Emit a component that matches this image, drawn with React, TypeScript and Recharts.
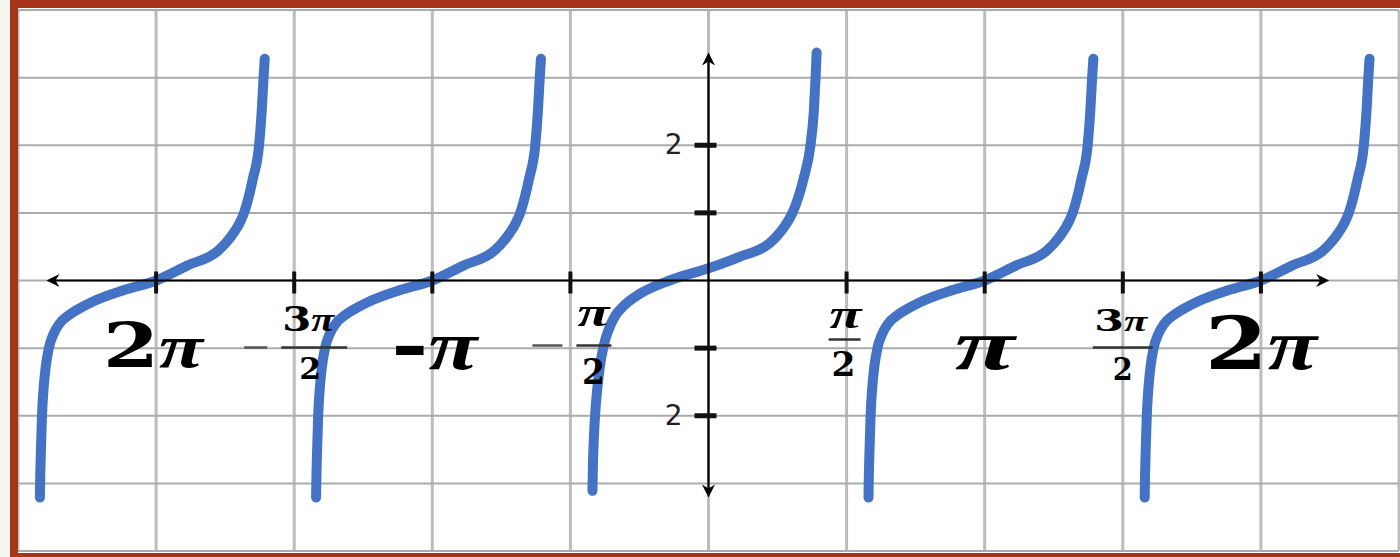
import React from 'react';
import { LineChart, Line, XAxis, YAxis, ReferenceLine, ReferenceDot } from 'recharts';

const PI = Math.PI;

// Grid values (x in radians, multiples of π/2; y in units)
const X_GRID = [-5 * PI / 2, -2 * PI, -3 * PI / 2, -PI, -PI / 2, 0, PI / 2, PI, 3 * PI / 2, 2 * PI, 5 * PI / 2];
const Y_GRID = [-4, -3, -2, -1, 0, 1, 2, 3, 4];

// Axis ticks and labels (as printed in the picture)
const X_TICKS = [-2 * PI, -3 * PI / 2, -PI, -PI / 2, PI / 2, PI, 3 * PI / 2, 2 * PI];
const X_TICK_LABELS = ['2π', '-3π/2', '-π', '-π/2', 'π/2', 'π', '3π/2', '2π'];
const Y_TICKS = [2, 1, -1, -2];
const Y_TICK_LABELS = ['2', '', '', '2'];

// Axis extents (arrow tips) in data units
const X_AXIS_RANGE = [-7.53, 7.06];
const Y_AXIS_RANGE = [-3.21, 3.37];

// Centres of the outer tangent branches
const BRANCH_CENTERS = [-2 * PI, -PI, PI, 2 * PI];

// Shape of an outer branch: [offset from centre (rad), y]
const SIDE_BRANCH_SHAPE: [number, number][] = [
  [-1.322, -3.21], [-1.318, -2.9], [-1.31, -2.5], [-1.298, -2.0], [-1.28, -1.6],
  [-1.255, -1.27], [-1.22, -1.0], [-1.17, -0.8], [-1.1, -0.64], [-1.0, -0.52],
  [-0.88, -0.42], [-0.717, -0.31], [-0.364, -0.14], [0, 0], [0.353, 0.22],
  [0.705, 0.44], [0.79, 0.55], [0.88, 0.7], [0.95, 0.85], [1.0, 1.0], [1.1, 1.5],
  [1.171, 2.0], [1.201, 2.5], [1.222, 3.0], [1.236, 3.28],
];

// Middle branch (drawn a little higher than the others): [x (rad), y]
const MIDDLE_BRANCH: [number, number][] = [
  [-1.32, -3.11], [-1.314, -2.7], [-1.303, -2.3], [-1.288, -1.95], [-1.265, -1.6],
  [-1.235, -1.27], [-1.195, -0.98], [-1.14, -0.74], [-1.06, -0.52], [-0.96, -0.37],
  [-0.785, -0.2], [-0.444, 0], [0, 0.18], [0.353, 0.35], [0.694, 0.55], [0.78, 0.66],
  [0.87, 0.81], [0.955, 1.0], [1.08, 1.5], [1.16, 2.0], [1.198, 2.5], [1.218, 3.0], [1.23, 3.37],
];

const branches = [
  ...BRANCH_CENTERS.map((c) => SIDE_BRANCH_SHAPE.map(([dx, y]) => ({ x: c + dx, y }))),
  MIDDLE_BRANCH.map(([x, y]) => ({ x, y })),
];

const CURVE = '#4472C4';
const SERIF = "'DejaVu Serif', 'Liberation Serif', serif";
const PI_FONT = "'Liberation Serif', 'DejaVu Serif', serif";

type Layout = any;
const LABEL_LAYOUT: Layout[] = [
  { kind: 'big', dx: -3, dy: 86, size: 62, len: 100 },
  { kind: 'frac', minus: [-50, -27], minusDy: 67, bar: [-13, 53], barDy: 67, numDx: 14, numDy: 50, numSize: 33, numLen: 52, denDx: 16, denDy: 98, denSize: 29, denLen: 22 },
  { kind: 'big', dx: 2, dy: 88, size: 70, len: 86 },
  { kind: 'frac', minus: [-38, -8], minusDy: 65, bar: [6, 41], barDy: 65, numDx: 23, numDy: 45, numSize: 40, numLen: 32, denDx: 23, denDy: 103, denSize: 36, denLen: 23 },
  { kind: 'frac', bar: [-18, 14], barDy: 59, numDx: -1, numDy: 47, numSize: 40, numLen: 32, denDx: -3, denDy: 95, denSize: 34, denLen: 24 },
  { kind: 'big', dx: 0, dy: 88, size: 72, len: 60 },
  { kind: 'frac', bar: [-30, 30], barDy: 67, numDx: -2, numDy: 50, numSize: 29, numLen: 53, denDx: 0, denDy: 99, denSize: 31, denLen: 20 },
  { kind: 'big', dx: 0, dy: 88, size: 72, len: 112 },
];

const mathSpans = (s: string) =>
  s.split('').map((ch, i) =>
    ch === 'π' ? (
      <tspan key={i} fontFamily={PI_FONT} fontStyle="italic" fontWeight={700}>{ch}</tspan>
    ) : (
      <tspan key={i}>{ch}</tspan>
    )
  );

const XTick = ({ cx, cy, idx }: any) => {
  if (cx == null || cy == null) return null;
  const label = X_TICK_LABELS[idx];
  const L = LABEL_LAYOUT[idx];
  let labelEl: React.ReactNode = null;
  if (L.kind === 'big') {
    labelEl = (
      <text x={cx + L.dx} y={cy + L.dy} textAnchor="middle" fontFamily={SERIF} fontWeight={700}
        fontSize={L.size} textLength={L.len} lengthAdjust="spacingAndGlyphs" fill="#000">
        {mathSpans(label)}
      </text>
    );
  } else {
    const neg = label.startsWith('-');
    const body = neg ? label.slice(1) : label;
    const [num, den] = body.split('/');
    labelEl = (
      <g>
        {neg && L.minus && (
          <line x1={cx + L.minus[0]} x2={cx + L.minus[1]} y1={cy + L.minusDy} y2={cy + L.minusDy} stroke="#555" strokeWidth={2.5} />
        )}
        <line x1={cx + L.bar[0]} x2={cx + L.bar[1]} y1={cy + L.barDy} y2={cy + L.barDy} stroke="#333" strokeWidth={2.5} />
        <text x={cx + L.numDx} y={cy + L.numDy} textAnchor="middle" fontFamily={SERIF} fontWeight={700}
          fontSize={L.numSize} textLength={L.numLen} lengthAdjust="spacingAndGlyphs" fill="#000">{mathSpans(num)}</text>
        <text x={cx + L.denDx} y={cy + L.denDy} textAnchor="middle" fontFamily={SERIF} fontWeight={700}
          fontSize={L.denSize} textLength={L.denLen} lengthAdjust="spacingAndGlyphs" fill="#000">{den}</text>
      </g>
    );
  }
  return (
    <g>
      <rect x={cx - 2} y={cy - 9} width={4} height={22} fill="#111" />
      {labelEl}
    </g>
  );
};

const YTick = ({ cx, cy, idx }: any) => {
  if (cx == null || cy == null) return null;
  return (
    <g>
      <rect x={cx - 14} y={cy - 2.5} width={22} height={5} fill="#111" />
      {Y_TICK_LABELS[idx] && (
        <text x={cx - 26} y={cy + 9} textAnchor="end" fontFamily="'DejaVu Sans', Verdana, sans-serif"
          fontSize={28} fill="#222">{Y_TICK_LABELS[idx]}</text>
      )}
    </g>
  );
};

const arrowHead = (tx: number, ty: number, ux: number, uy: number) => {
  const L = 13, W = 6.5, B = 9;
  const px = -uy, py = ux;
  return `${tx},${ty} ${tx - ux * L + px * W},${ty - uy * L + py * W} ${tx - ux * B},${ty - uy * B} ${tx - ux * L - px * W},${ty - uy * L - py * W}`;
};

const ArrowLine = (props: any) => {
  const { x1, y1, x2, y2 } = props;
  if ([x1, y1, x2, y2].some((v) => v == null || isNaN(v))) return null;
  const len = Math.hypot(x2 - x1, y2 - y1) || 1;
  const ux = (x2 - x1) / len, uy = (y2 - y1) / len;
  return (
    <g>
      <line x1={x1 + ux * 4} y1={y1 + uy * 4} x2={x2 - ux * 4} y2={y2 - uy * 4} stroke="#000" strokeWidth={2.2} />
      <polygon points={arrowHead(x2, y2, ux, uy)} fill="#000" />
      <polygon points={arrowHead(x1, y1, -ux, -uy)} fill="#000" />
    </g>
  );
};

export default function App() {
  return (
    <div style={{ position: 'absolute', left: 0, top: 0, width: 1400, height: 557, background: '#F4F5EC', overflow: 'hidden' }}>
      <div style={{ position: 'absolute', left: 10, top: 0, width: 1420, height: 561, boxSizing: 'border-box', border: '8px solid #A63418', background: '#fff' }} />
      <div style={{ position: 'absolute', left: 18, top: 8 }}>
        <LineChart width={1382} height={545} margin={{ top: 2, right: 1, bottom: 2, left: 0 }}>
          <XAxis type="number" dataKey="x" domain={[-5 * PI / 2, 5 * PI / 2]} allowDataOverflow hide />
          <YAxis type="number" domain={[-4, 4]} allowDataOverflow hide />
          {X_GRID.map((v, i) => (
            <ReferenceLine key={'gx' + i} x={v} stroke="#bcbcbc" strokeWidth={3} ifOverflow="visible" />
          ))}
          {Y_GRID.map((v, i) => (
            <ReferenceLine key={'gy' + i} y={v} stroke="#ababab" strokeWidth={2} ifOverflow="visible" />
          ))}
          {branches.map((d, i) => (
            <Line key={i} data={d} dataKey="y" type="monotone" stroke={CURVE} strokeWidth={10}
              strokeLinecap="round" strokeLinejoin="round" dot={false} activeDot={false} isAnimationActive={false} />
          ))}
          <ReferenceLine segment={[{ x: X_AXIS_RANGE[0], y: 0 }, { x: X_AXIS_RANGE[1], y: 0 }]} shape={ArrowLine} ifOverflow="visible" />
          <ReferenceLine segment={[{ x: 0, y: Y_AXIS_RANGE[1] }, { x: 0, y: Y_AXIS_RANGE[0] }]} shape={ArrowLine} ifOverflow="visible" />
          {X_TICKS.map((v, i) => (
            <ReferenceDot key={'xt' + i} x={v} y={0} r={1} ifOverflow="visible" shape={(p: any) => <XTick {...p} idx={i} />} />
          ))}
          {Y_TICKS.map((v, i) => (
            <ReferenceDot key={'yt' + i} x={0} y={v} r={1} ifOverflow="visible" shape={(p: any) => <YTick {...p} idx={i} />} />
          ))}
        </LineChart>
      </div>
    </div>
  );
}
